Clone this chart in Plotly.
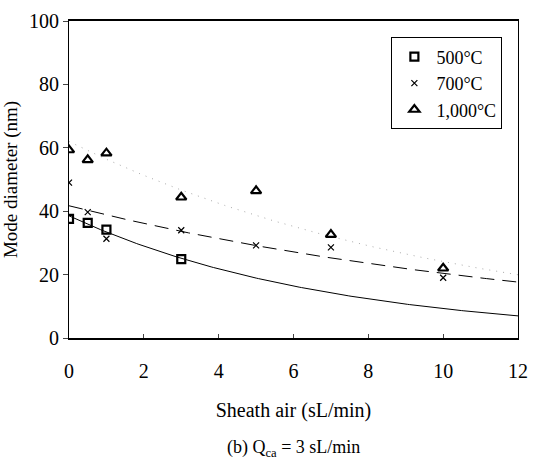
import numpy as np
import plotly.graph_objects as go

# Data
x500 = [0, 0.5, 1, 3]
y500 = [37.6, 36.3, 34.2, 24.9]
x700 = [0, 0.5, 1, 3, 5, 7, 10]
y700 = [49.0, 39.7, 31.3, 34.0, 29.2, 28.6, 19.0]
x1000 = [0, 0.5, 1, 3, 5, 7, 10]
y1000 = [59.3, 56.2, 58.3, 44.4, 46.4, 32.6, 22.0]
names = ["500°C", "700°C", "1,000°C"]
xticks = [0, 2, 4, 6, 8, 10, 12]
yticks = [0, 20, 40, 60, 80, 100]

FONT = "Liberation Serif, Times New Roman, serif"

def expfit(xs, ys):
    b, a = np.polyfit(np.array(xs, float), np.log(np.array(ys, float)), 1)
    xx = np.linspace(0, 12, 200)
    return xx, np.exp(a) * np.exp(b * xx)

fig = go.Figure()

# trendlines (exponential fits of each series)
xx, f1 = expfit(x500, y500)
fig.add_trace(go.Scatter(x=xx, y=f1, mode="lines", line=dict(color="black", width=1),
                         showlegend=False, hoverinfo="skip"))
xx, f2 = expfit(x700, y700)
fig.add_trace(go.Scatter(x=xx, y=f2, mode="lines", line=dict(color="black", width=1, dash="14px,8px"),
                         showlegend=False, hoverinfo="skip"))
xx, f3 = expfit(x1000, y1000)
fig.add_trace(go.Scatter(x=xx, y=f3, mode="lines", line=dict(color="#aaaaaa", width=1, dash="1px,6px"),
                         showlegend=False, hoverinfo="skip"))

# markers
fig.add_trace(go.Scatter(x=x500, y=y500, mode="markers", name=names[0],
                         marker=dict(symbol="square-open", size=8, color="black", line=dict(width=2.2, color="black"))))
fig.add_trace(go.Scatter(x=x700, y=y700, mode="markers", name=names[1],
                         marker=dict(symbol="x-thin-open", size=6, color="black", line=dict(width=1.2, color="black"))))
fig.add_trace(go.Scatter(x=x1000, y=y1000, mode="markers", name=names[2],
                         marker=dict(symbol="triangle-up-open", size=9, color="black", line=dict(width=2.2, color="black"))))

fig.update_layout(
    width=538, height=464,
    margin=dict(l=68, r=10, t=16, b=126),
    paper_bgcolor="white", plot_bgcolor="white",
    font=dict(family=FONT, size=20, color="black"),
    showlegend=True,
    legend=dict(x=0.718, y=0.948, xanchor="left", yanchor="top",
                bordercolor="black", borderwidth=1, bgcolor="white",
                font=dict(family=FONT, size=18), itemwidth=34,
                tracegroupgap=0, itemsizing="trace"),
    xaxis=dict(range=[0, 12], tickvals=xticks, ticks="inside", ticklen=4,
               showline=True, linecolor="black", linewidth=1.5, mirror=True,
               showgrid=False, zeroline=False, ticklabelstandoff=14,
               tickfont=dict(family=FONT, size=20),
               title=dict(text="Sheath air (sL/min)", standoff=22,
                          font=dict(family=FONT, size=20))),
    yaxis=dict(range=[0, 100], tickvals=yticks, ticks="outside", ticklen=5,
               showline=True, linecolor="black", linewidth=1.2, mirror=True,
               showgrid=False, zeroline=False,
               tickfont=dict(family=FONT, size=20),
               title=dict(text="Mode diameter (nm)", standoff=6,
                          font=dict(family=FONT, size=19))),
    annotations=[dict(text="(b) Q<sub>ca</sub> = 3 sL/min", x=0.5, y=-0.35,
                      xref="paper", yref="paper", xanchor="center", yanchor="middle",
                      showarrow=False, font=dict(family=FONT, size=18))],
)

fig.write_html("out.html")
